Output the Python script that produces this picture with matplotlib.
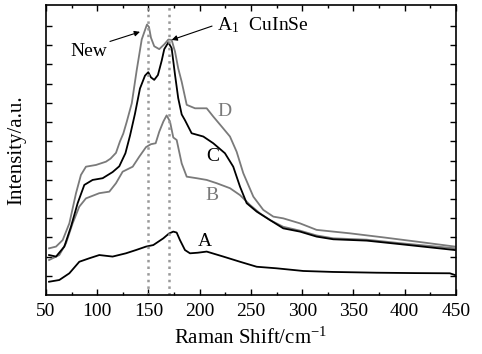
import matplotlib
matplotlib.use("Agg")
import matplotlib.pyplot as plt
import numpy as np

plt.rcParams['font.family'] = ['Liberation Serif', 'DejaVu Serif']
plt.rcParams['mathtext.fontset'] = 'stix'

# 拉曼光谱数据
x_a = [53, 63, 72.8, 82.5, 92.2, 102, 115, 128, 137.8, 147.6, 154.7, 164.5, 170, 174.2,
       177.5, 180.7, 185.6, 190.5, 198, 206.8, 223, 239.3, 255.6, 274.8, 301,
       330, 372.6, 410, 444, 449]
y_a = [0.69, 0.78, 1.13, 1.73, 1.91, 2.08, 2.0, 2.17, 2.34, 2.52, 2.6, 2.95, 3.2, 3.3,
       3.25, 2.86, 2.34, 2.17, 2.2, 2.26, 2.0, 1.73, 1.47, 1.39, 1.25,
       1.2, 1.16, 1.14, 1.13, 1.04]

x_b = [53, 63, 69.5, 76, 82.5, 89, 102, 111.8, 118.3, 124.8, 134.6, 141, 147.6, 152.4,
       157, 160.5, 164.5, 167.7, 171, 174.2, 177.5, 182.4, 187.3, 197, 206.8, 216.5,
       229.5, 239.3, 249, 258.8, 268.6, 281.5, 297.8, 314, 330.3, 362.9, 395, 449]
y_b = [1.82, 2.08, 2.69, 3.73, 4.6, 5.03, 5.3, 5.38, 5.82, 6.42, 6.68, 7.2, 7.7, 7.85,
       7.9, 8.5, 9.03, 9.35, 9.03, 8.2, 8.07, 6.85, 6.16, 6.08, 5.99, 5.82,
       5.56, 5.2, 4.69, 4.25, 3.9, 3.55, 3.35, 3.1, 2.95, 2.88, 2.7, 2.43]

x_c = [53, 59.8, 67.9, 74.4, 80.9, 87.4, 95.5, 105.3, 115, 121.5, 127.5, 132, 136.8,
       141.7, 146.6, 149.8, 152.4, 155.6, 159.2, 162.9, 165.4, 169.4, 172.6, 175.9,
       179, 182.4, 185.6, 192.1, 203.5, 213.2, 224.6, 232.7, 239.3, 245.8, 255.6,
       268.6, 281.5, 297.8, 314, 330.3, 362.9, 395, 449]
y_c = [2.08, 2.0, 2.52, 3.56, 4.78, 5.73, 5.99, 6.08, 6.4, 6.7, 7.38, 8.3, 9.43,
       10.75, 11.42, 11.6, 11.33, 11.2, 11.45, 12.2, 12.8, 13.15, 12.85, 11.46,
       10.25, 9.4, 9.1, 8.42, 8.25, 7.9, 7.38, 6.68, 5.64, 4.78, 4.34,
       3.9, 3.47, 3.3, 3.04, 2.9, 2.83, 2.65, 2.34]

x_d = [53, 59.8, 66.3, 72.8, 79.3, 84.1, 89, 98.8, 108.5, 113, 118.3, 122.2, 125.4,
       128.7, 133.7, 138.5, 143.4, 148.5, 150.5, 152.4, 155.6, 160.5, 165.4, 169.4,
       172.6, 175.9, 179, 182.4, 187.3, 195.4, 206.8, 213.2, 221.4, 229.5, 236, 242.5,
       252.3, 262, 271.8, 281.5, 297.8, 314, 346.6, 379, 411.5, 449]
y_d = [2.43, 2.52, 2.86, 3.73, 5.3, 6.25, 6.68, 6.77, 6.94, 7.1, 7.4, 8.0, 8.4,
       9.0, 9.98, 11.7, 13.3, 14.08, 13.95, 13.4, 12.95, 12.8, 13.05, 13.3,
       13.28, 12.67, 11.8, 11.1, 9.9, 9.72, 9.72, 9.29, 8.77, 8.25, 7.46, 6.34,
       5.12, 4.43, 4.08, 3.99, 3.73, 3.39, 3.21, 3.0, 2.78, 2.52]

peak_lines = [150, 170]

fig = plt.figure(figsize=(4.82, 3.54), dpi=100)
ax = fig.add_axes([0.0954, 0.1667, 0.8506, 0.8193])

gray = '#7a7a7a'
ax.plot(x_a, y_a, color='black', lw=1.3)
ax.plot(x_b, y_b, color=gray, lw=1.3)
ax.plot(x_c, y_c, color='black', lw=1.3)
ax.plot(x_d, y_d, color=gray, lw=1.3)

for xv in peak_lines:
    ax.axvline(xv, color='#999999', lw=1.8, ls=':')

ax.text(224.6, 9.53, 'D', color=gray, fontsize=14, ha='center', va='center')
ax.text(213, 7.19, 'C', color='black', fontsize=14, ha='center', va='center')
ax.text(211.7, 5.2, 'B', color=gray, fontsize=14, ha='center', va='center')
ax.text(205, 2.78, 'A', color='black', fontsize=14, ha='center', va='center')

ax.text(92, 12.7, 'New', fontsize=14, ha='center', va='center')
ax.annotate('', xy=(141.7, 13.7), xytext=(112.4, 13.2),
            arrowprops=dict(arrowstyle='-|>', color='black', lw=0.8,
                            shrinkA=0, shrinkB=0, mutation_scale=8))
ax.text(217, 14.06, r'A$_{\mathregular{1}}$  CuInSe', fontsize=14, ha='left', va='center')
ax.annotate('', xy=(172.6, 13.28), xytext=(212, 14.0),
            arrowprops=dict(arrowstyle='-|>', color='black', lw=0.8,
                            shrinkA=0, shrinkB=0, mutation_scale=8))

ax.set_xlim(50, 450)
ax.set_ylim(0, 15.1)
ax.set_xticks(np.arange(50, 451, 50))
ax.set_xticks(np.arange(75, 450, 50), minor=True)
ax.set_yticks(np.arange(1, 15, 1))
ax.set_yticklabels([])
ax.tick_params(which='both', direction='in', top=True, right=True, width=1)
ax.tick_params(which='major', length=4, labelsize=14, pad=6)
ax.tick_params(which='minor', length=2.5)
for s in ax.spines.values():
    s.set_linewidth(1.2)

ax.set_xlabel('Raman Shift/cm$^{\\mathregular{-1}}$', fontsize=15, labelpad=5)
ax.set_ylabel('Intensity/a.u.', fontsize=15, labelpad=8)

fig.savefig('out.png', dpi=100)
